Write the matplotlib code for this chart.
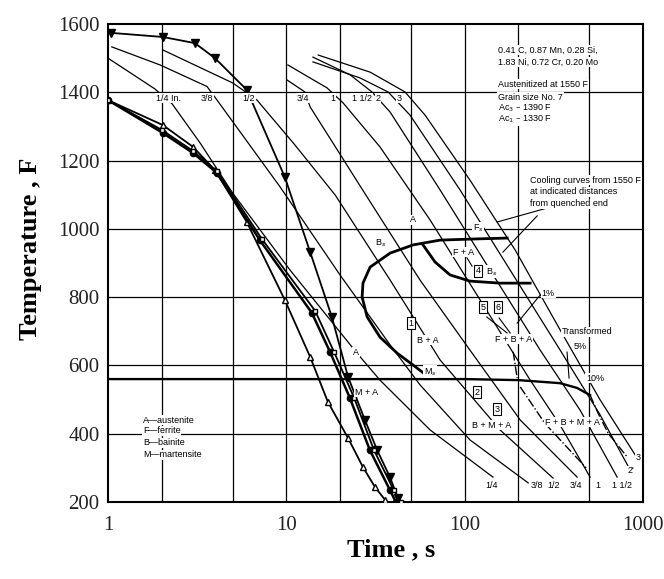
import matplotlib
matplotlib.use("Agg")
import matplotlib.pyplot as plt
from matplotlib.ticker import FixedLocator, NullLocator

# --- cooling curves at distances from the quenched end (time s, temp F) ---
t_q14 = [1.0, 1.83, 2.29, 3.3, 5.0, 10.5, 24.9, 33.5, 64, 144]
T_q14 = [1500, 1410, 1366, 1250, 1105, 879, 636, 557, 411, 273]
t_q38 = [1.05, 1.96, 3.59, 4.09, 9.22, 20.0, 38.2, 56.2, 107, 227]
T_q38 = [1533, 1480, 1417, 1377, 1123, 865, 660, 543, 382, 256]
t_q12 = [2.03, 5.02, 6.85, 11.0, 18.8, 38.2, 72.8, 158, 313]
T_q12 = [1524, 1427, 1377, 1250, 1099, 850, 616, 411, 270]
t_q34 = [10.1, 12.7, 13.6, 28.4, 56.2, 107, 205, 427]
T_q34 = [1436, 1401, 1357, 1093, 850, 645, 440, 273]
t_q1 = [10.2, 16.9, 20.8, 33.5, 64, 122, 233, 343, 505]
T_q1 = [1480, 1413, 1369, 1240, 1026, 792, 557, 425, 273]
t_q112 = [14.1, 22.8, 30.2, 38.2, 72.8, 139, 265, 444, 716]
T_q112 = [1503, 1451, 1401, 1342, 1114, 879, 645, 469, 273]
t_q2 = [14.1, 25.9, 37.2, 49.4, 94.2, 180, 343, 575, 847]
T_q2 = [1489, 1442, 1401, 1333, 1114, 879, 645, 455, 294]
t_q3 = [15.1, 29.5, 46.3, 60, 107, 192, 343, 575, 927]
T_q3 = [1509, 1459, 1401, 1333, 1143, 938, 704, 499, 329]

# measured curves with markers near the quenched end
t_tri = [1.04, 2.03, 3.07, 3.98, 6.0, 9.8, 13.6, 18.0, 22.2, 27.6, 32.3, 38.1, 42.2]
T_tri = [1574, 1562, 1544, 1500, 1407, 1152, 932, 742, 566, 440, 352, 273, 212]
t_otri = [1.0, 2.03, 3.0, 3.98, 6.0, 9.8, 13.6, 17.1, 22.2, 26.9, 31.4, 35.8]
T_otri = [1377, 1304, 1240, 1172, 1020, 792, 625, 493, 387, 302, 244, 206]
t_dot = [1.0, 2.03, 3.0, 4.08, 7.1, 13.9, 17.6, 22.7, 29.4, 38.1, 41.1]
T_dot = [1377, 1281, 1222, 1164, 967, 754, 639, 505, 352, 235, 200]
t_sq = [1.0, 2.0, 3.0, 4.1, 7.3, 14.5, 18.5, 24, 31, 40, 44]
T_sq = [1377, 1290, 1228, 1168, 970, 760, 640, 505, 352, 235, 200]

# transformation lines
t_bs = [173, 107, 72.8, 51.4, 38.2, 29.5, 26.9, 26.6, 28.4, 33.5, 41.8, 51.4, 64]
T_bs = [973, 970, 967, 953, 929, 888, 841, 800, 742, 683, 636, 601, 563]
t_bf = [58.4, 68.2, 82.8, 107, 158, 233]
T_bf = [953, 903, 865, 847, 841, 841]
t_ms = [1, 100, 200, 343, 427, 505]
T_ms = [560, 560, 557, 548, 534, 513]
t_dd1 = [187, 197]
T_dd1 = [640, 563]
t_dd2 = [205, 282, 480]
T_dd2 = [537, 430, 300]
t_dd3 = [505, 560, 640, 815]
T_dd3 = [513, 460, 400, 332]

grid_t = [2, 5, 10, 20, 50, 100, 200, 500]
grid_T = [400, 600, 800, 1000, 1200, 1400]

top_labels = ["1/4 In.", "3/8", "1/2", "3/4", "1", "1 1/2", "2", "3"]
top_label_t = [2.17, 3.59, 6.18, 12.4, 18.3, 26.6, 32.7, 42.9]
bottom_labels = ["1/4", "3/8", "1/2", "3/4", "1", "1 1/2", "2'", "3"]
bottom_label_t = [141, 255, 317, 421, 560, 763, 857, 938]
bottom_label_T = [247, 247, 247, 247, 247, 247, 291, 329]

fig = plt.figure(figsize=(6.64, 5.79), dpi=100)
ax = fig.add_axes([108 / 664, 1 - 502 / 579, 535 / 664, 478 / 579])
ax.set_xscale("log")
ax.set_xlim(1, 1000)
ax.set_ylim(200, 1600)

for g in grid_t:
    ax.axvline(g, color="black", lw=0.9, zorder=1)
for g in grid_T:
    ax.axhline(g, color="black", lw=0.9, zorder=1)

thin = dict(color="black", lw=0.9, zorder=2)
for tt, TT in [(t_q14, T_q14), (t_q38, T_q38), (t_q12, T_q12), (t_q34, T_q34),
               (t_q1, T_q1), (t_q112, T_q112), (t_q2, T_q2), (t_q3, T_q3)]:
    ax.plot(tt, TT, **thin)

ax.plot(t_tri, T_tri, color="black", lw=1.3, marker="v", ms=6, zorder=3)
ax.plot(t_otri, T_otri, color="black", lw=1.3, marker="^", ms=5, mfc="white", zorder=3)
ax.plot(t_dot, T_dot, color="black", lw=1.8, marker="o", ms=4.5, zorder=3)
ax.plot(t_sq, T_sq, color="black", lw=1.3, marker="s", ms=3, mfc="white", zorder=3)

thick = dict(color="black", lw=2.0, zorder=4)
ax.plot(t_bs, T_bs, **thick)
ax.plot(t_bf, T_bf, **thick)
ax.plot(t_ms, T_ms, color="black", lw=1.7, zorder=4)
for tt, TT in [(t_dd1, T_dd1), (t_dd2, T_dd2), (t_dd3, T_dd3)]:
    ax.plot(tt, TT, color="black", lw=1.0, ls="-.", zorder=4)

# leader lines
leaders = [([290, 152], [1061, 1020]), ([255, 164], [1038, 932]),
           ([103, 110], [915, 891]), ([133, 173], [742, 695]),
           ([156, 180], [739, 695]), ([265, 197], [806, 724]),
           ([375, 385], [639, 563])]
for lt, lT in leaders:
    ax.plot(lt, lT, color="black", lw=0.8, zorder=4)

fam = "Liberation Sans"
box_white = dict(facecolor="white", edgecolor="none", pad=0.6)
small = dict(fontsize=6.5, family=fam, zorder=6)

for lab, tt in zip(top_labels, top_label_t):
    ax.text(tt, 1383, lab, ha="center", va="center", bbox=box_white, **small)
for lab, tt, TT in zip(bottom_labels, bottom_label_t, bottom_label_T):
    ax.text(tt, TT, lab, ha="center", va="center", bbox=box_white, **small)

regions = [(51.1, 1026, "A"), (34.0, 959, r"B$_s$"), (119, 1002, r"F$_s$"),
           (98, 932, "F + A"), (142, 874, r"B$_s$"), (187, 677, "F + B + A"),
           (62.3, 674, "B + A"), (64, 581, r"M$_s$"), (142, 425, "B + M + A"),
           (400, 434, "F + B + M + A"), (24.6, 639, "A"), (28.0, 522, "M + A"),
           (294, 812, "1%"), (486, 698, "Transformed"), (444, 654, "5%"),
           (539, 563, "10%")]
for tt, TT, lab in regions:
    ax.text(tt, TT, lab, ha="center", va="center", bbox=box_white, **small)

boxes = [(119, 877, "4"), (127, 771, "5"), (154, 771, "6"), (50, 724, "1"),
         (117, 522, "2"), (152, 472, "3")]
for tt, TT, lab in boxes:
    ax.text(tt, TT, lab, ha="center", va="center", fontsize=6.5, family=fam,
            zorder=6, bbox=dict(facecolor="white", edgecolor="black", lw=0.8, pad=1.2))

info = ["0.41 C, 0.87 Mn, 0.28 Si,", "1.83 Ni, 0.72 Cr, 0.20 Mo",
        "Austenitized at 1550 F", "Grain size No. 7",
        r"Ac$_3$ – 1390 F", r"Ac$_1$ – 1330 F"]
info_T = [1524, 1489, 1424, 1386, 1354, 1322]
for lab, TT in zip(info, info_T):
    ax.text(154, TT, lab, ha="left", va="center", bbox=box_white, **small)

note = ["Cooling curves from 1550 F", "at indicated distances", "from quenched end"]
note_T = [1143, 1108, 1073]
for lab, TT in zip(note, note_T):
    ax.text(233, TT, lab, ha="left", va="center", bbox=box_white, **small)

legend = ["A—austenite", "F—ferrite", "B—bainite", "M—martensite"]
legend_T = [440, 408, 373, 338]
for lab, TT in zip(legend, legend_T):
    ax.text(1.57, TT, lab, ha="left", va="center", bbox=box_white, **small)

ax.xaxis.set_major_locator(FixedLocator([1, 10, 100, 1000]))
ax.xaxis.set_minor_locator(NullLocator())
ax.set_xticklabels(["1", "10", "100", "1000"])
ax.set_yticks([200, 400, 600, 800, 1000, 1200, 1400, 1600])
ax.tick_params(length=0, labelsize=15, pad=10)
ax.tick_params(axis="y", pad=6)
for lbl in ax.get_xticklabels() + ax.get_yticklabels():
    lbl.set_family("Liberation Serif")
    lbl.set_color("#222222")
for s in ax.spines.values():
    s.set_linewidth(1.5)

ax.set_xlabel("Time , s", family="Liberation Serif", fontweight="bold", fontsize=19)
ax.set_ylabel("Temperature , F", family="Liberation Serif", fontweight="bold", fontsize=19)
ax.xaxis.set_label_coords(0.53, -0.075)
ax.yaxis.set_label_coords(-0.123, 0.53)

fig.savefig("out.png", dpi=100)
